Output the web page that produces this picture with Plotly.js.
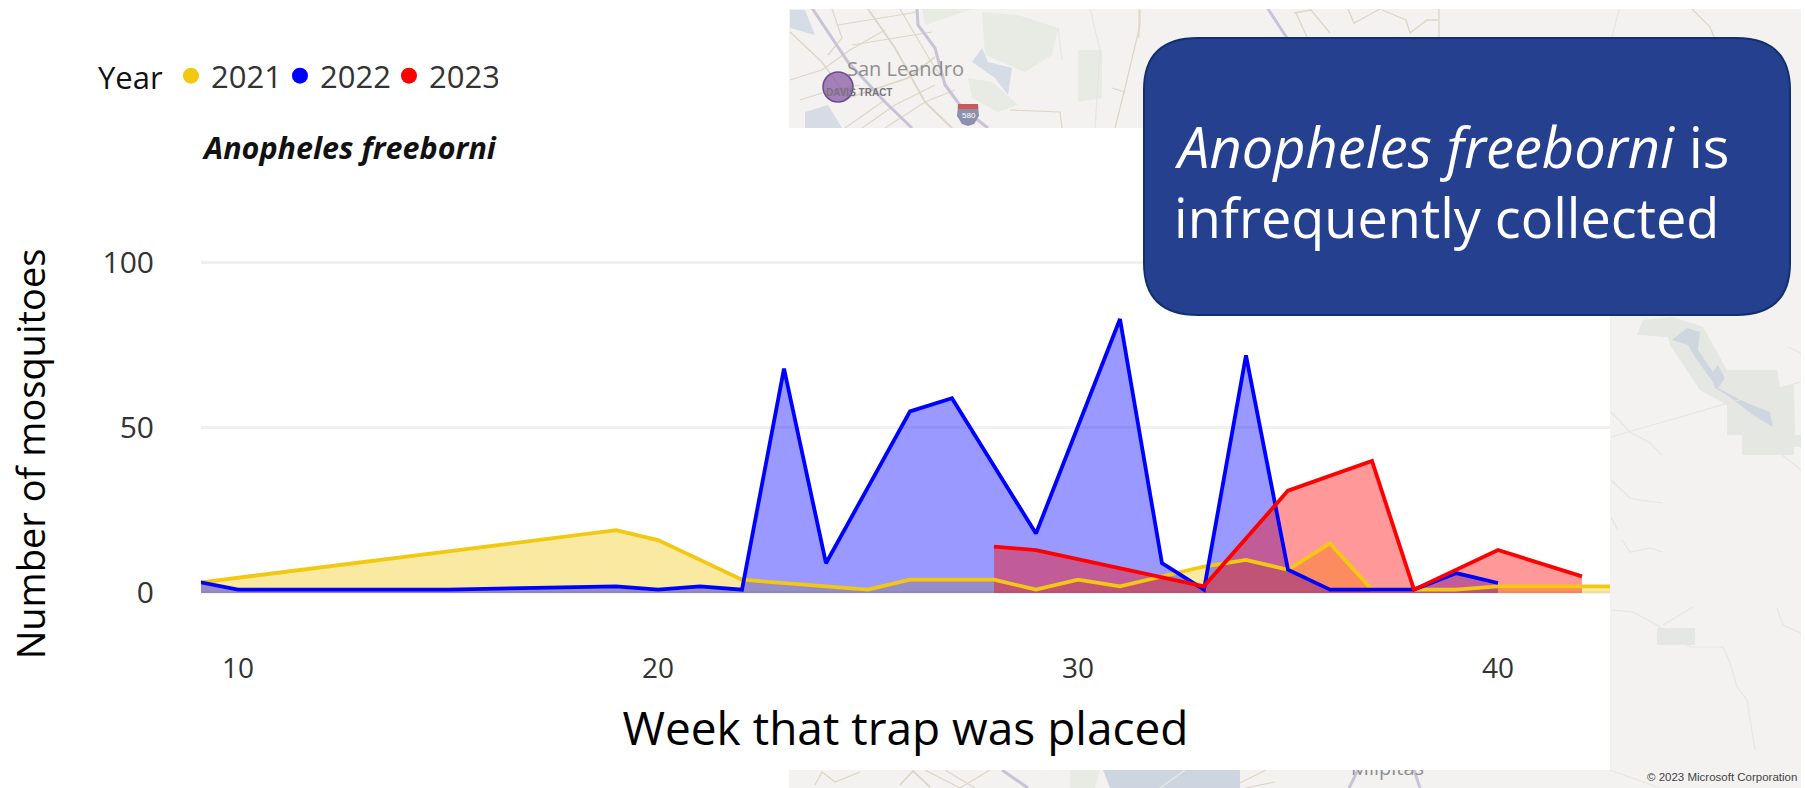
<!DOCTYPE html>
<html><head><meta charset="utf-8">
<script src="https://cdn.plot.ly/plotly-3.0.1.min.js"></script>
<style>html,body{margin:0;padding:0;background:#fff}#c{width:1805px;height:788px}</style></head>
<body><div id="c"></div>
<script>
const weeks2021=[9,19,20,22,25,26,27,28,29,30,31,32,33,34,35,36,37,38,39,40,41,42,43];
const counts2021=[3,19,16,4,1,4,4,4,1,4,2,5,8,10,7,15,1,1,1,2,2,2,2];
const weeks2022=[9,10,15,19,20,21,22,23,24,26,27,29,31,32,33,34,35,36,37,38,39,40];
const counts2022=[3.5,1,1,2,1,2,1,68,9,55,59,18,83,9,1,72,7,1,1,1,6,3];
const weeks2023=[28,29,33,35,37,38,40,42];
const counts2023=[14,13,2,31,40,1,13,5];
const yearNames=['2021','2022','2023'];
const lineColors=['#F2C811','#0000FF','#FF0000'];
const fillColors=['rgba(242,200,17,0.4)','rgba(0,0,255,0.4)','rgba(255,0,0,0.4)'];
const W=1805,H=788,ML=201,MR=195,MT=259,MB=139;
const px=x=>(x-ML)/(W-ML-MR), py=y=>1-(y-MT)/(H-MT-MB);
const poly=(pts,close)=>pts.map((p,i)=>(i?'L':'M')+px(p[0])+','+py(p[1])).join(' ')+(close?' Z':'');
const fillShape=(pts,c)=>({type:'path',xref:'paper',yref:'paper',layer:'below',path:poly(pts,true),fillcolor:c,line:{width:0}});
const road=(pts,c,w)=>({type:'path',xref:'paper',yref:'paper',layer:'below',path:poly(pts,false),line:{color:c,width:w||1}});
const rect=(a,b,c,d,col)=>({type:'rect',xref:'paper',yref:'paper',layer:'below',x0:px(a),x1:px(c),y0:py(b),y1:py(d),fillcolor:col,line:{width:0}});
const tan='#ddd6c6',lav='#c9c3d6',pale='#e6e5e2',parkC='#e8eae4',waterC='#d5dce6';
const shapes=[
 rect(789,9,1801,788,'#f3f2f1'),
 // top map: parks and water
 fillShape([[982,12],[1018,15],[1058,28],[1052,55],[1025,72],[985,55]],parkC),
 fillShape([[922,9],[972,9],[925,25]],parkC),
 fillShape([[968,78],[992,82],[1018,105],[998,112],[972,98]],parkC),
 fillShape([[1078,50],[1102,50],[1102,98],[1078,102]],parkC),
 fillShape([[982,48],[988,62],[1012,68],[1008,95],[995,78],[972,62]],waterC),
 fillShape([[790,10],[805,10],[815,35],[790,28]],waterC),
 fillShape([[805,128],[805,112],[828,105],[842,128]],waterC),
 // top map: roads
 road([[868,9],[895,48],[925,102],[952,128]],tan,2),
 road([[790,32],[822,62],[848,98]],tan,1.3),road([[848,98],[908,78],[935,57]],tan,1.6),
 road([[838,25],[918,12]],tan,1.2),road([[852,45],[932,32]],tan,1.2),road([[862,128],[895,105],[935,85]],tan,1.2),
 road([[790,80],[822,70],[850,50],[885,30]],tan,1.2),road([[832,9],[842,38],[828,55]],tan,1.2),
 road([[885,128],[925,102],[955,90]],tan,1.2),road([[845,128],[885,100]],tan,1.2),road([[900,9],[930,60],[970,120]],tan,1.2),
 road([[800,100],[825,92],[860,85]],tan,1.2),road([[1010,110],[1060,112],[1062,128]],tan,1.2),
 road([[1058,28],[1062,60]],pale,1.2),road([[1140,10],[1140,25],[1125,88],[1115,128]],tan,1.2),road([[1112,88],[1125,92]],tan,1.2),
 road([[1090,9],[1100,50],[1095,128]],pale,1.2),
 road([[812,8],[848,62],[885,102],[912,128]],lav,3),
 road([[917,9],[918,25],[935,48],[945,85],[962,108],[988,128]],lav,3),
 // top map right of the box
 road([[1268,9],[1287,38]],lav,3),
 road([[1294,13],[1311,10],[1330,33]],tan,1.3),road([[1296,13],[1307,37]],tan,1.3),
 road([[1348,9],[1354,23],[1380,9]],tan,1.3),road([[1382,10],[1406,20],[1410,33],[1427,20],[1438,20]],tan,1.3),
 road([[1439,9],[1439,37]],tan,1.3),road([[1692,9],[1710,27],[1714,37]],tan,1.3),road([[1619,10],[1612,37]],pale,1.2),
 road([[1139,9],[1139,38]],tan,1.2),
 // bottom strip
 fillShape([[1070,770],[1100,770],[1095,788],[1070,788]],parkC),
 fillShape([[1103,770],[1240,770],[1240,788],[1110,788]],'#cdd5e0'),
 road([[815,785],[822,772],[835,782],[860,772]],tan,1.3),road([[900,785],[913,771],[930,787]],tan,1.8),
 road([[925,770],[960,788]],tan,1.2),road([[945,770],[975,788]],tan,1.2),road([[960,788],[990,770]],tan,1.2),
 road([[1240,783],[1266,770]],tan,1.2),road([[1245,788],[1275,782]],tan,1.2),
 road([[1160,788],[1185,770]],'#e9e9e6',1.2),
 road([[1002,770],[1028,788]],lav,3),road([[1358,770],[1349,788]],lav,3),road([[1414,770],[1420,788]],lav,3),
 road([[1610,770],[1660,788]],pale,1.2),
 Object.assign(rect(1340,757,1435,779,'rgba(0,0,0,0)'),{label:{text:'Milpitas',textposition:'middle center',font:{family:'Open Sans',size:20,color:'#8f8f8f'}}}),
 // white panels that sit over the map
 rect(0,0,789,788,'#fff'),
 rect(789,128,1610,770,'#fff'),
 rect(1801,0,1805,788,'#fff'),
 rect(789,0,1805,9,'#fff'),
 // right map
 fillShape([[1637,335],[1643,320],[1673,317],[1703,327],[1727,370],[1777,370],[1780,387],[1794,385],[1795,435],[1801,435],[1801,447],[1794,447],[1794,455],[1742,455],[1742,435],[1727,435],[1727,405],[1700,390],[1670,345],[1668,337]],'#e5e7e2'),
 fillShape([[1672,340],[1687,328],[1700,332],[1698,350],[1713,372],[1718,365],[1725,378],[1718,388],[1747,403],[1770,412],[1773,427],[1753,415],[1730,397],[1715,388],[1713,382],[1695,357],[1688,345]],'#cfd6e0'),
 rect(1657,628,1695,645,'#e5e7e2'),
 road([[1611,437],[1801,382]],pale,1.2),road([[1611,412],[1630,432],[1650,443],[1662,455]],pale,1.2),
 road([[1611,480],[1630,498],[1640,500],[1663,503]],pale,1.2),road([[1622,540],[1630,552],[1650,548],[1662,552]],pale,1.2),
 road([[1611,517],[1618,530]],pale,1.2),
 road([[1611,610],[1633,612],[1657,625],[1690,647],[1723,647],[1730,663],[1737,687],[1747,700],[1755,750]],pale,1.2),
 road([[1663,625],[1693,607]],pale,1.2),road([[1777,608],[1783,625],[1801,633]],pale,1.2),
 road([[1782,455],[1801,470]],pale,1.2),road([[1788,347],[1801,353]],pale,1.2),
 // DAVIS TRACT marker and I-580 shield
 {type:'circle',xref:'paper',yref:'paper',layer:'below',x0:px(823),x1:px(853),y0:py(72),y1:py(102),fillcolor:'rgba(128,80,160,0.7)',line:{color:'#6b4a8c',width:1.5}},
 fillShape([[958,104],[978,104],[979,116],[974,124],[968,126],[962,124],[957,116]],'#8c92ac'),
 rect(958,104,978,109,'#c9595a'),
 // call-out box
 {type:'path',xref:'paper',yref:'paper',layer:'above',
  path:`M${px(1198)},${py(38)} L${px(1736)},${py(38)} Q${px(1790)},${py(38)} ${px(1790)},${py(90)} L${px(1790)},${py(263)} Q${px(1790)},${py(315)} ${px(1736)},${py(315)} L${px(1198)},${py(315)} Q${px(1144)},${py(315)} ${px(1144)},${py(263)} L${px(1144)},${py(90)} Q${px(1144)},${py(38)} ${px(1198)},${py(38)} Z`,
  fillcolor:'#264090',line:{color:'#12306e',width:2}}
];
const txt=(x,y,t,size,col,fam,extra)=>Object.assign({xref:'paper',yref:'paper',x:px(x),y:py(y),text:t,showarrow:false,xanchor:'left',yanchor:'middle',font:{family:fam,size:size,color:col}},extra||{});
const annotations=[
 txt(1172,146,'<i>Anopheles freeborni</i> is',56,'#fff','Open Sans'),
 txt(1172,217,'infrequently collected',54,'#fff','Open Sans'),
 txt(845,69,'San Leandro',20,'#8f8f8f','Open Sans'),
 txt(824,92,'<b>DAVIS TRACT</b>',10,'#77737c','Liberation Sans'),
 txt(960,115,'580',8,'#fff','Liberation Sans'),
 txt(1645,777,'© 2023 Microsoft Corporation',11.5,'#444','Liberation Sans')
];
const wk=[weeks2021,weeks2022,weeks2023], ct=[counts2021,counts2022,counts2023];
const traces=[];
yearNames.forEach((n,i)=>traces.push({type:'scatter',mode:'none',x:wk[i],y:ct[i],fill:'tozeroy',fillcolor:fillColors[i],showlegend:false,hoverinfo:'skip'}));
yearNames.forEach((n,i)=>traces.push({type:'scatter',mode:'lines',x:wk[i],y:ct[i],line:{color:lineColors[i],width:3.8},name:n,showlegend:false}));
yearNames.forEach((n,i)=>traces.push({type:'scatter',mode:'markers',x:[null],y:[null],name:n,marker:{color:lineColors[i],size:18},showlegend:true}));
const font='Open Sans';
Plotly.newPlot('c',traces,{
 width:W,height:H,margin:{l:ML,r:MR,t:MT,b:MB,pad:0},
 paper_bgcolor:'rgba(0,0,0,0)',plot_bgcolor:'rgba(0,0,0,0)',
 font:{family:font,color:'#252423'},
 title:{text:'<b><i>Anopheles freeborni</i></b>',xref:'container',yref:'container',x:204/W,y:1-148/H,xanchor:'left',yanchor:'middle',font:{family:font,size:30.5,color:'#111'}},
 legend:{orientation:'h',x:px(96),y:py(49),xanchor:'left',yanchor:'top',itemwidth:30,entrywidth:64,entrywidthmode:'pixels',font:{family:font,size:31,color:'#333'},title:{text:'Year',side:'left',font:{family:font,size:31,color:'#111'}},bgcolor:'rgba(0,0,0,0)'},
 xaxis:{range:[9.119,42.667],tickvals:[10,20,30,40],ticktext:['10','20','30','40'],showgrid:false,zeroline:false,showline:false,ticks:'',tickfont:{family:font,size:28,color:'#333'},
   title:{text:'Week that trap was placed',standoff:27,font:{family:font,size:46,color:'#000'}}},
 yaxis:{range:[-17,101.2],tickvals:[0,50,100],ticktext:['0','50','100'],showgrid:true,gridcolor:'#f0f0f0',gridwidth:3,zeroline:false,showline:false,ticks:'outside',ticklen:40,tickcolor:'rgba(0,0,0,0)',tickfont:{family:font,size:30,color:'#333'},
   title:{text:'Number of mosquitoes',standoff:45,font:{family:font,size:38,color:'#000'}}},
 shapes:shapes,annotations:annotations,showlegend:true
},{displayModeBar:false});
</script></body></html>
